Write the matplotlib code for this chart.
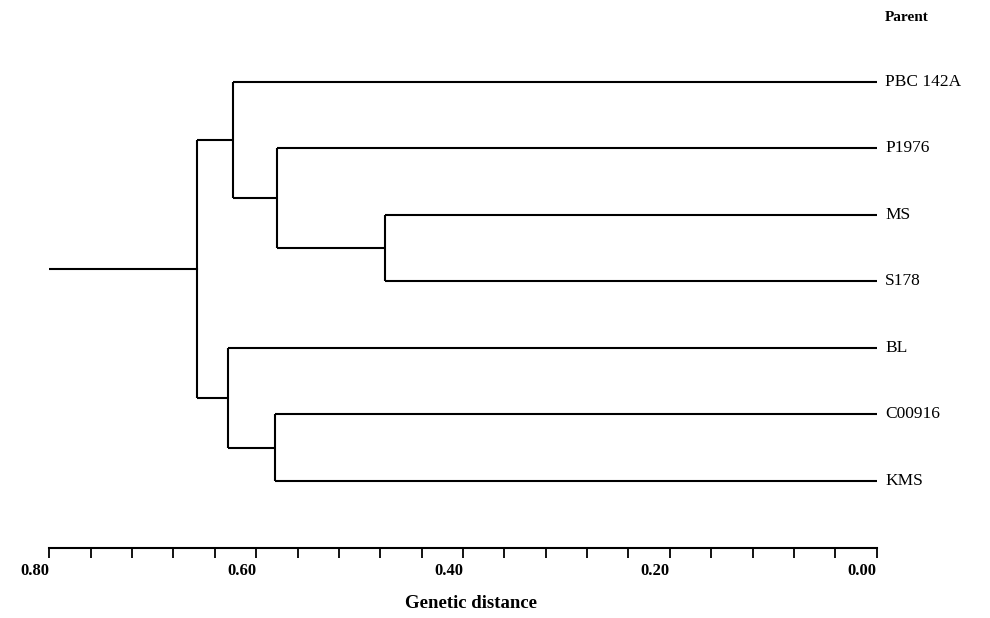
import matplotlib
matplotlib.use("Agg")
import matplotlib.pyplot as plt
from matplotlib.ticker import MultipleLocator, FuncFormatter

# leaves top to bottom
leaves = ["PBC 142A", "P1976", "MS", "S178", "BL", "C00916", "KMS"]
# merges: (child a, child b, genetic distance); new cluster ids are "n0", "n1", ...
merges = [
    ("MS", "S178", 0.475),
    ("P1976", "n0", 0.580),
    ("PBC 142A", "n1", 0.622),
    ("C00916", "KMS", 0.582),
    ("BL", "n3", 0.627),
    ("n2", "n4", 0.657),
]
root_tail = 0.80
tick_labels = [0.80, 0.60, 0.40, 0.20, 0.00]

plt.rcParams['font.family'] = ['Liberation Serif', 'DejaVu Serif']

fig = plt.figure(figsize=(9.9, 6.18), dpi=100)
# axes box so that 0.80 -> x=49 px, 0.00 -> x=877 px, axis line at y=548 px
ax = fig.add_axes([49.3 / 990, 1 - 548 / 618, (876.7 - 49.3) / 990, (548 - 15.5) / 618])

lw = 1.5
ypos = {}
hgt = {}
n = len(leaves)
for i, name in enumerate(leaves):
    ypos[name] = n - 1 - i
    hgt[name] = 0.0

for k, (a, b, d) in enumerate(merges):
    nid = "n%d" % k
    ya, yb = ypos[a], ypos[b]
    ax.plot([d, d], [ya, yb], color="black", lw=lw, solid_capstyle="butt")
    ax.plot([d, hgt[a]], [ya, ya], color="black", lw=lw, solid_capstyle="butt")
    ax.plot([d, hgt[b]], [yb, yb], color="black", lw=lw, solid_capstyle="butt")
    ypos[nid] = (ya + yb) / 2
    hgt[nid] = d

root = "n%d" % (len(merges) - 1)
ax.plot([root_tail, hgt[root]], [ypos[root], ypos[root]], color="black", lw=lw)

for name in leaves:
    ax.annotate(name, (0.0, ypos[name]), xytext=(6, 0), textcoords="offset points",
                ha="left", va="center", fontsize=12.5, annotation_clip=False)

ax.annotate("Parent", (0.0, n - 1 + 0.97), xytext=(6, 0), textcoords="offset points",
            ha="left", va="center", fontsize=11, fontweight="bold", annotation_clip=False)

ax.set_xlim(0.80, 0.0)
ax.set_ylim(-1.01, n)

for s in ["top", "left", "right"]:
    ax.spines[s].set_visible(False)
ax.spines["bottom"].set_linewidth(1.5)
ax.set_yticks([])

ax.xaxis.set_major_locator(MultipleLocator(0.04))


def fmt(v, pos):
    for t in tick_labels:
        if abs(v - t) < 1e-6:
            return "%.2f" % t
    return ""


ax.xaxis.set_major_formatter(FuncFormatter(fmt))
ax.tick_params(axis="x", direction="out", length=7, width=1.3, pad=4, labelsize=12)
for lab in ax.get_xticklabels():
    lab.set_fontweight("bold")
    lab.set_horizontalalignment("right")

fig.text(471 / 990, 1 - 604 / 618, "Genetic distance", ha="center", va="center",
         fontsize=13.5, fontweight="bold")

fig.savefig("out.png", dpi=100)
